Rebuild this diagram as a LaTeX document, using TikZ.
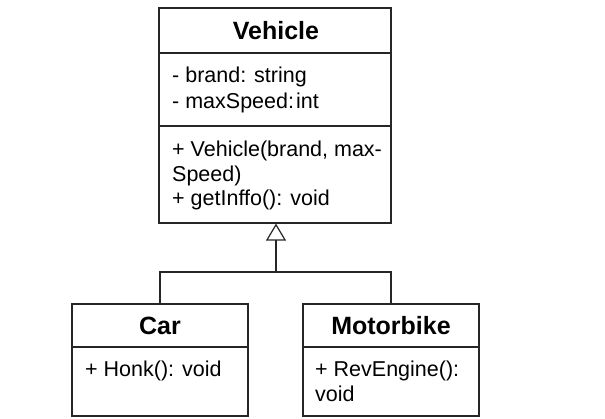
\documentclass[tikz,border=0pt]{standalone}
\usepackage{fontspec}
\setmainfont{Liberation Sans}
\usetikzlibrary{arrows.meta}
\begin{document}
\begin{tikzpicture}[x=1pt,y=-1pt,
  classbox/.style={draw=black!85, line width=1.2pt, rectangle, inner sep=0pt},
  divider/.style={draw=black!85, line width=1.2pt},
  title/.style={font=\fontsize{25}{29}\selectfont\bfseries, inner sep=0pt},
  member/.style={font=\fontsize{21.5}{25}\selectfont, anchor=base west, inner sep=0pt},
  link/.style={draw=black!85, line width=1.2pt},
  inherit/.style={link, -{Triangle[open, length=17pt, width=20pt, line width=1.2pt]}}]
  \useasboundingbox (0,0) rectangle (605,419);

  % Vehicle class
  \node[classbox, minimum width=232pt, minimum height=215pt] (veh) at (275,115.5) {};
  \draw[divider] (159,53) -- (391,53);
  \draw[divider] (159,126) -- (391,126);
  \node[title] (vehT) at (276,31) {Vehicle};
  \node[member] (va1) at (172,83) {- brand: string};
  \node[member] (va2) at (172,109) {- maxSpeed:\hspace{2pt}int};
  \node[member] (vm1) at (172,157) {+ Vehicle(brand, max-};
  \node[member] (vm2) at (172,182) {Speed)};
  \node[member] (vm3) at (172,206) {+ getInffo(): void};

  % Car class
  \node[classbox, minimum width=176pt, minimum height=112pt] (car) at (160,360) {};
  \draw[divider] (72,347) -- (248,347);
  \node[title] (carT) at (160,326) {Car};
  \node[member] (cm1) at (85,377) {+ Honk(): void};

  % Motorbike class
  \node[classbox, minimum width=176pt, minimum height=112pt] (mot) at (391,360) {};
  \draw[divider] (303,347) -- (479,347);
  \node[title] (motT) at (391,326) {Motorbike};
  \node[member] (mm1) at (315,377) {+ RevEngine():};
  \node[member] (mm2) at (315,402) {void};

  % Generalisation
  \coordinate (join) at (276,272);
  \draw[link] (car.north) |- (join) -| (mot.north);
  \draw[inherit] (join) -- (join |- veh.south);
\end{tikzpicture}
\end{document}
